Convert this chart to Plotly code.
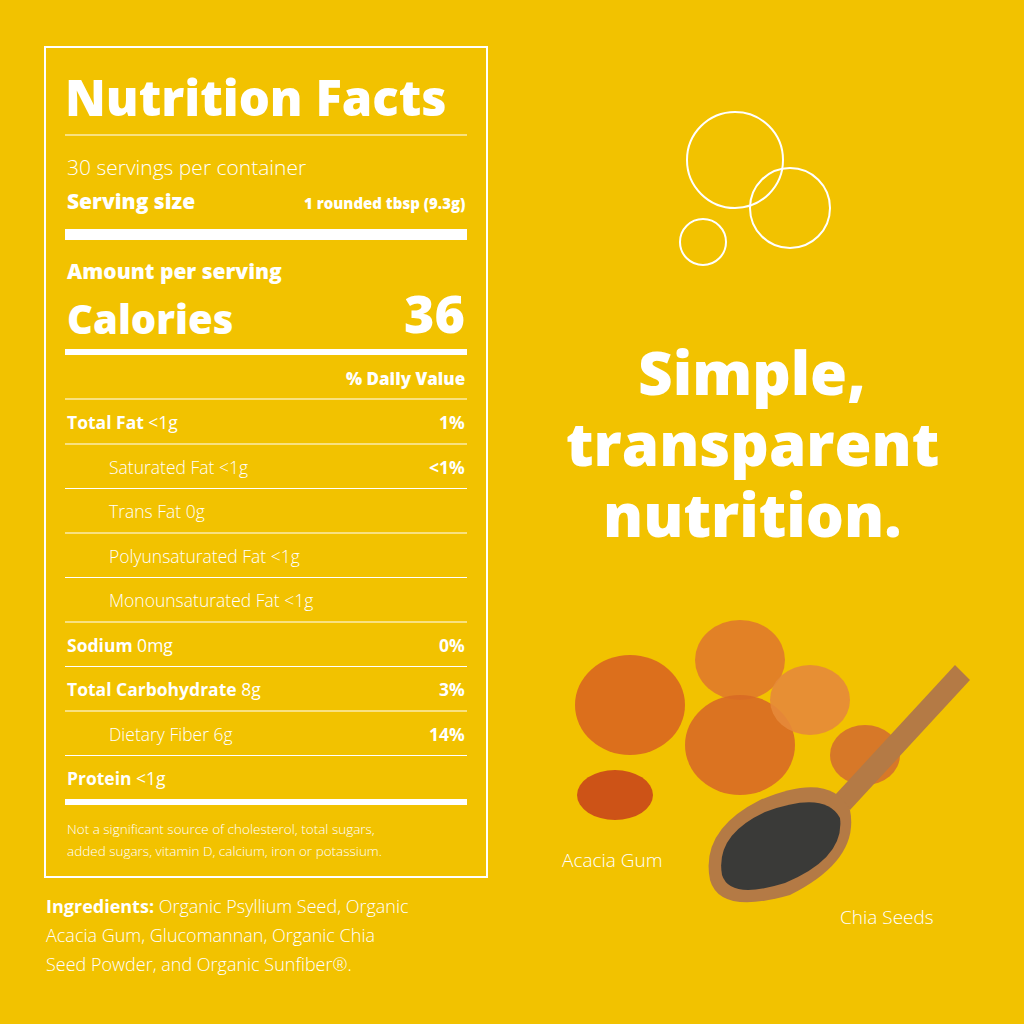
import plotly.graph_objects as go

BG = "#F2C200"
W = "white"
FB = "Open Sans"

names = ["Total Fat", "Saturated Fat", "Trans Fat", "Polyunsaturated Fat", "Monounsaturated Fat",
         "Sodium", "Total Carbohydrate", "Dietary Fiber", "Protein"]
amounts = ["<1g", "<1g", "0g", "<1g", "<1g", "0mg", "8g", "6g", "<1g"]
daily_values = ["1%", "<1%", "", "", "", "0%", "3%", "14%", ""]
indented = [False, True, True, True, True, False, False, True, False]
servings = "30 servings per container"
serving_size = "1 rounded tbsp (9.3g)"
calories = "36"
footnote = ["Not a significant source of cholesterol, total sugars,",
            "added sugars, vitamin D, calcium, iron or potassium."]
ingredients = ["<b>Ingredients:</b> Organic Psyllium Seed, Organic",
               "Acacia Gum, Glucomannan, Organic Chia",
               "Seed Powder, and Organic Sunfiber®."]
headline = ["Simple,", "transparent", "nutrition."]

def esc(s):
    return s.replace("<", "&lt;")

fig = go.Figure()
shapes = []
ann = []

def text(x, y, t, size, bold=False, anchor="left", weight=None):
    ann.append(dict(x=x, y=y, xref="x", yref="y", text=t, showarrow=False,
                    xanchor=anchor, yanchor="middle",
                    font=dict(family=FB, size=size, color=W,
                              weight=weight if weight else (800 if bold else 400))))

def hline(y, w=1.2):
    shapes.append(dict(type="line", x0=65, x1=467, y0=y, y1=y, xref="x", yref="y",
                       line=dict(color=W, width=w)))

def bar(y0, y1):
    shapes.append(dict(type="rect", x0=65, x1=467, y0=y0, y1=y1, xref="x", yref="y",
                       fillcolor=W, line=dict(width=0)))

shapes.append(dict(type="rect", x0=45, x1=487, y0=47, y1=877, xref="x", yref="y",
                   line=dict(color=W, width=2)))
text(63, 97, "Nutrition Facts", 49, bold=True)
hline(135)
text(65, 167, servings, 21, weight=300)
text(65, 201, "Serving size", 21, bold=True)
text(467, 203, serving_size, 15, bold=True, anchor="right")
bar(229, 240)
text(65, 271, "Amount per serving", 21, bold=True)
text(65, 318, "Calories", 40, bold=True)
text(467, 312, calories, 52, bold=True, anchor="right")
bar(349, 355)
text(467, 378, "% Daily Value", 17, bold=True, anchor="right")
hline(399)
for i, (n, a, d, ind) in enumerate(zip(names, amounts, daily_values, indented)):
    y = 422 + i * 44.5
    label = (n if ind else f"<b>{n}</b>") + " " + esc(a)
    text(107 if ind else 65, y, label, 17.5, weight=300 if ind else None)
    if d:
        text(467, y, f"<b>{esc(d)}</b>", 17.5, anchor="right")
    if i < len(names) - 1:
        hline(y + 22)
bar(799, 805)
text(65, 829, footnote[0], 13.5, weight=300)
text(65, 851, footnote[1], 13.5, weight=300)
for i, l in enumerate(ingredients):
    text(44, 906 + i * 29, l, 18, weight=300)

for cx, cy, r in [(735, 160, 48), (790, 208, 40), (703, 242, 23)]:
    shapes.append(dict(type="circle", x0=cx - r, x1=cx + r, y0=cy - r, y1=cy + r,
                       xref="x", yref="y", line=dict(color=W, width=2)))
for i, l in enumerate(headline):
    text(752, 372 + i * 71, l, 60, bold=True, anchor="center")

for cx, cy, rx, ry, c in [(630, 705, 55, 50, "#D9661F"), (740, 660, 45, 40, "#E07A2A"),
                          (740, 745, 55, 50, "#D86A25"), (810, 700, 40, 35, "#E58A3A"),
                          (615, 795, 38, 25, "#C9471A"), (865, 755, 35, 30, "#D4702C")]:
    shapes.append(dict(type="circle", x0=cx - rx, x1=cx + rx, y0=cy - ry, y1=cy + ry,
                       xref="x", yref="y", fillcolor=c, opacity=0.9, line=dict(width=0)))
shapes.append(dict(type="path", path="M 955 665 L 970 680 L 850 810 L 835 795 Z",
                   xref="x", yref="y", fillcolor="#B47A45", line=dict(width=0)))
shapes.append(dict(type="path", path="M 710 880 Q 700 830 760 800 Q 830 770 850 810 Q 860 860 790 895 Q 720 915 710 880 Z",
                   xref="x", yref="y", fillcolor="#B47A45", line=dict(width=0)))
shapes.append(dict(type="path", path="M 722 875 Q 715 835 765 812 Q 825 790 840 818 Q 845 858 785 883 Q 730 900 722 875 Z",
                   xref="x", yref="y", fillcolor="#3A3A38", line=dict(width=0)))
text(612, 860, "Acacia Gum", 19, anchor="center", weight=300)
text(887, 917, "Chia Seeds", 19, anchor="center", weight=300)

fig.update_layout(width=1024, height=1024, margin=dict(l=0, r=0, t=0, b=0),
                  paper_bgcolor=BG, plot_bgcolor=BG, shapes=shapes, annotations=ann,
                  showlegend=False,
                  xaxis=dict(range=[0, 1024], visible=False, fixedrange=True),
                  yaxis=dict(range=[1024, 0], visible=False, fixedrange=True))
fig.write_html("out.html", config={"displayModeBar": False})
with open("out.html", encoding="utf-8") as f:
    html = f.read()
html = html.replace("<head>", "<head><style>html,body{margin:0;padding:0;background:#F2C200;overflow:hidden}</style>", 1)
with open("out.html", "w", encoding="utf-8") as f:
    f.write(html)
